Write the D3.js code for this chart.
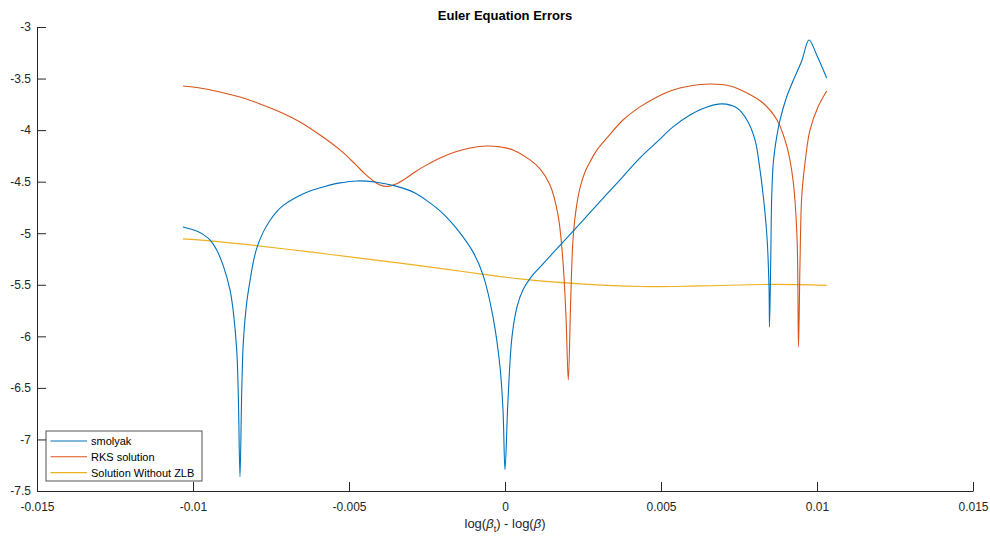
<!DOCTYPE html>
<html>
<head>
<meta charset="utf-8">
<script src="https://cdn.jsdelivr.net/npm/d3@7"></script>
<style>
  body { margin: 0; background: #fff; }
  svg { display: block; font-family: "Liberation Sans", Arial, sans-serif; }
  .axis text { font-size: 12px; fill: #262626; }
  .axis path, .axis line { stroke: #262626; }
</style>
</head>
<body>
<div id="chart"></div>
<script>
// series
var smolyakX = [-0.010321, -0.009881, -0.009679, -0.009455, -0.00924, -0.009029, -0.008814, -0.008708, -0.008599, -0.008548,
  -0.008494, -0.008439, -0.008388, -0.008279, -0.008173, -0.008067, -0.007958, -0.007747, -0.007532, -0.007324,
  -0.007106, -0.006676, -0.00625, -0.005769, -0.005288, -0.004744, -0.004167, -0.003526, -0.002885, -0.002404,
  -0.002083, -0.001763, -0.001442, -0.001026, -0.000705, -0.000385, -0.00016, -0.000064, 0, 0.000096,
  0.000224, 0.000385, 0.000577, 0.000865, 0.001122, 0.001667, 0.002404, 0.003269, 0.003782, 0.004327,
  0.004872, 0.005385, 0.005929, 0.006474, 0.006955, 0.007436, 0.007756, 0.008013, 0.008173, 0.008301,
  0.008397, 0.008462, 0.008478, 0.008516, 0.008548, 0.008599, 0.008708, 0.008814, 0.009029, 0.009231,
  0.00951, 0.009744, 0.00999, 0.010311];
var smolyakY = [-4.939, -4.978, -5.011, -5.065, -5.162, -5.317, -5.549, -5.763, -6.131, -6.567,
  -7.362, -6.548, -6.063, -5.675, -5.462, -5.278, -5.147, -4.987, -4.876, -4.793,
  -4.73, -4.648, -4.59, -4.546, -4.512, -4.493, -4.503, -4.541, -4.609, -4.706,
  -4.784, -4.881, -4.997, -5.181, -5.404, -5.811, -6.296, -6.713, -7.294, -6.616,
  -6.005, -5.714, -5.549, -5.414, -5.329, -5.149, -4.906, -4.619, -4.45, -4.27,
  -4.115, -3.969, -3.853, -3.775, -3.746, -3.785, -3.902, -4.095, -4.386, -4.706,
  -5.036, -5.52, -5.908, -5.288, -4.648, -4.318, -4.066, -3.902, -3.676, -3.523,
  -3.33, -3.126, -3.271, -3.494];

var rksX = [-0.010321, -0.009776, -0.009135, -0.008494, -0.007853, -0.007212, -0.006571, -0.005929, -0.005288, -0.004808,
  -0.004487, -0.004263, -0.004006, -0.00375, -0.003494, -0.003205, -0.002885, -0.002564, -0.002083, -0.001603,
  -0.001122, -0.000577, -0.00016, 0.000256, 0.000801, 0.001122, 0.001442, 0.001699, 0.001859, 0.001955,
  0.002029, 0.002106, 0.002179, 0.002276, 0.002404, 0.002564, 0.002724, 0.002949, 0.003269, 0.003782,
  0.004327, 0.004872, 0.005385, 0.005929, 0.006571, 0.007212, 0.007756, 0.008269, 0.008718, 0.009038,
  0.009231, 0.009359, 0.009407, 0.009455, 0.00951, 0.009615, 0.009776, 0.010032, 0.010311];
var rksY = [-3.572, -3.591, -3.63, -3.679, -3.746, -3.824, -3.921, -4.047, -4.192, -4.328,
  -4.425, -4.483, -4.532, -4.546, -4.522, -4.473, -4.406, -4.347, -4.27, -4.212,
  -4.173, -4.154, -4.163, -4.192, -4.289, -4.376, -4.532, -4.822, -5.278, -5.811,
  -6.422, -5.646, -5.065, -4.774, -4.561, -4.406, -4.309, -4.192, -4.076, -3.902,
  -3.775, -3.679, -3.611, -3.572, -3.553, -3.572, -3.64, -3.737, -3.902, -4.163,
  -4.483, -5.036, -6.102, -5.288, -4.648, -4.318, -3.998, -3.775, -3.62];

var noZlbX = [-0.010321, -0.009455, -0.008173, -0.00625, -0.004327, -0.003045, -0.002083, -0.000801, 0.000481, 0.002404,
  0.004327, 0.00625, 0.00859, 0.010311];
var noZlbY = [-5.055, -5.074, -5.113, -5.181, -5.254, -5.302, -5.341, -5.394, -5.443, -5.491,
  -5.517, -5.511, -5.496, -5.506];

var seriesNames = ["smolyak", "RKS solution", "Solution Without ZLB"];
var seriesColors = ["#0072BD", "#D95319", "#EDB120"];
var xTicks = [-0.015, -0.01, -0.005, 0, 0.005, 0.01, 0.015];
var yTicks = [-3, -3.5, -4, -4.5, -5, -5.5, -6, -6.5, -7, -7.5];

var W = 990, H = 536;
var margin = {top: 27, right: 17, bottom: 45, left: 37};
var width = W - margin.left - margin.right,
    height = H - margin.top - margin.bottom;

var svg = d3.select("#chart").append("svg")
  .attr("width", W)
  .attr("height", H);

var g = svg.append("g")
  .attr("transform", "translate(" + margin.left + "," + margin.top + ")");

var xScale = d3.scaleLinear().domain([-0.015, 0.015]).range([0, width]);
var yScale = d3.scaleLinear().domain([-7.5, -3]).range([height, 0]);

// axes, ticks pointing inward like matlab
g.append("g")
  .attr("class", "axis")
  .attr("transform", "translate(0," + height + ")")
  .call(d3.axisBottom(xScale).tickValues(xTicks).tickSizeInner(-9).tickSizeOuter(0)
    .tickPadding(11).tickFormat(function(d) { return String(d); }));

g.append("g")
  .attr("class", "axis")
  .call(d3.axisLeft(yScale).tickValues(yTicks).tickSizeInner(-9).tickSizeOuter(0)
    .tickPadding(6).tickFormat(function(d) { return String(d); }));

// centripetal catmull-rom goes through every point without looping at the dips
var line = d3.line()
  .x(function(d) { return xScale(d[0]); })
  .y(function(d) { return yScale(d[1]); })
  .curve(d3.curveCatmullRom.alpha(0.5));

var series = [
  d3.zip(smolyakX, smolyakY),
  d3.zip(rksX, rksY),
  d3.zip(noZlbX, noZlbY)
];

// draw in reverse so blue sits on top
series.slice().reverse().forEach(function(s, j) {
  var i = series.length - 1 - j;
  g.append("path")
    .datum(s)
    .attr("fill", "none")
    .attr("stroke", seriesColors[i])
    .attr("stroke-width", 1.1)
    .attr("stroke-linejoin", "round")
    .attr("d", line);
});

// title
svg.append("text")
  .attr("x", margin.left + width / 2)
  .attr("y", 20)
  .attr("text-anchor", "middle")
  .style("font-size", "13px")
  .style("font-weight", "bold")
  .attr("fill", "#000")
  .text("Euler Equation Errors");

// x label: log(beta_t) - log(beta)
var xl = svg.append("text")
  .attr("x", margin.left + width / 2)
  .attr("y", 528)
  .attr("text-anchor", "middle")
  .style("font-size", "13px")
  .attr("fill", "#262626");
xl.append("tspan").text("log(");
xl.append("tspan").style("font-style", "italic").text("β");
xl.append("tspan").attr("dy", 4).style("font-size", "9px").text("t");
xl.append("tspan").attr("dy", -4).text(") - log(");
xl.append("tspan").style("font-style", "italic").text("β");
xl.append("tspan").text(")");

// legend
var leg = svg.append("g").attr("transform", "translate(46,431)");
leg.append("rect")
  .attr("width", 156)
  .attr("height", 50)
  .attr("fill", "#fff")
  .attr("stroke", "#262626")
  .attr("stroke-width", 0.8);

seriesNames.forEach(function(name, i) {
  var yy = 10 + i * 15.8;
  leg.append("line")
    .attr("x1", 4.5).attr("x2", 41)
    .attr("y1", yy).attr("y2", yy)
    .attr("stroke", seriesColors[i])
    .attr("stroke-width", 1.1);
  leg.append("text")
    .attr("x", 45)
    .attr("y", yy + 4)
    .style("font-size", "11px")
    .attr("fill", "#000")
    .text(name);
});
</script>
</body>
</html>
